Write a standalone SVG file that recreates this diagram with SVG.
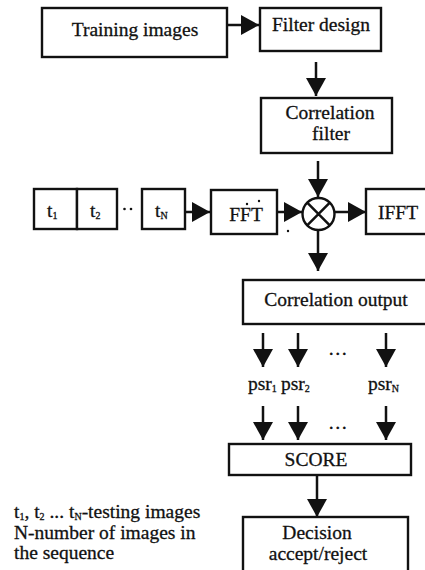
<svg xmlns="http://www.w3.org/2000/svg" width="425" height="570" viewBox="0 0 425 570">
<defs>
<style>
.box{fill:#fff;stroke:#111;stroke-width:2.4}
.ln{fill:none;stroke:#111;stroke-width:2.5}
text{font-family:"Liberation Serif","Times New Roman",serif;font-size:19.5px;fill:#111;stroke:#111;stroke-width:0.3}
.c{text-anchor:middle}
.sub{font-size:10px}
</style>
<marker id="ah" viewBox="0 0 18 20" refX="18" refY="10" markerWidth="18" markerHeight="20" markerUnits="userSpaceOnUse" orient="auto">
<path d="M0,0 L18,10 L0,20 z" fill="#111"/>
</marker>
</defs>
<rect width="425" height="570" fill="#fff"/>

<g id="connectors">
<path class="ln" marker-end="url(#ah)" d="M227,25 H259"/>
<path class="ln" marker-end="url(#ah)" d="M316,62 V96"/>
<path class="ln" marker-end="url(#ah)" d="M318,161 V197"/>
<path class="ln" marker-end="url(#ah)" d="M185,212 H210"/>
<path class="ln" marker-end="url(#ah)" d="M277,212 H302"/>
<path class="ln" marker-end="url(#ah)" d="M335,212 H366"/>
<path class="ln" marker-end="url(#ah)" d="M318,230 V271"/>
<path class="ln" marker-end="url(#ah)" d="M263,333 V367"/>
<path class="ln" marker-end="url(#ah)" d="M298,333 V367"/>
<path class="ln" marker-end="url(#ah)" d="M386,333 V367"/>
<path class="ln" marker-end="url(#ah)" d="M263,406 V440"/>
<path class="ln" marker-end="url(#ah)" d="M298,406 V440"/>
<path class="ln" marker-end="url(#ah)" d="M386,406 V440"/>
<path class="ln" marker-end="url(#ah)" d="M317,475 V517"/>
</g>

<g id="training-images">
<rect class="box" x="42" y="8" width="185" height="49"/>
<text class="c" x="135" y="36">Training images</text>
</g>

<g id="filter-design">
<rect class="box" x="260" y="8" width="121" height="43"/>
<text class="c" x="321" y="31">Filter design</text>
</g>

<g id="correlation-filter">
<rect class="box" x="261" y="98" width="131" height="55"/>
<text class="c" x="330" y="119">Correlation</text>
<text class="c" x="331" y="140">filter</text>
</g>

<g id="test-images">
<rect class="box" x="34" y="189" width="43" height="40"/>
<rect class="box" x="77" y="189" width="40" height="40"/>
<rect class="box" x="142" y="189" width="43" height="40"/>
<text x="47" y="217">t<tspan class="sub" dy="2">1</tspan></text>
<text x="90" y="217">t<tspan class="sub" dy="2">2</tspan></text>
<text x="155" y="217">t<tspan class="sub" dy="2">N</tspan></text>
<circle cx="124.5" cy="209" r="1.3" fill="#111"/>
<circle cx="131" cy="209" r="1.3" fill="#111"/>
</g>

<g id="fft">
<rect class="box" x="211" y="190" width="66" height="44"/>
<text class="c" x="246" y="221">FFT</text>
<circle cx="247" cy="204" r="1.2" fill="#111"/>
<circle cx="259" cy="201" r="1.2" fill="#111"/>
<circle cx="288" cy="231" r="1.2" fill="#111"/>
</g>

<g id="multiplier">
<circle cx="318.5" cy="214" r="16" fill="#fff" stroke="#111" stroke-width="2.4"/>
<path class="ln" stroke-width="2.2" d="M307.2,202.7 L329.8,225.3 M329.8,202.7 L307.2,225.3"/>
</g>

<g id="ifft">
<rect class="box" x="366" y="189" width="70" height="45"/>
<text x="378" y="219">IFFT</text>
</g>

<g id="correlation-output">
<rect class="box" x="243" y="280" width="195" height="44"/>
<text class="c" x="336" y="306">Correlation output</text>
</g>

<g id="psr">
<text x="248" y="390">psr<tspan class="sub" dy="2">1</tspan></text>
<text x="281" y="390">psr<tspan class="sub" dy="2">2</tspan></text>
<text x="368" y="390">psr<tspan class="sub" dy="2">N</tspan></text>
<text x="328" y="355">…</text>
<text x="328" y="429">…</text>
</g>

<g id="score">
<rect class="box" x="229" y="444" width="182" height="31"/>
<text class="c" x="316" y="466">SCORE</text>
</g>

<g id="decision">
<rect class="box" x="243" y="517" width="165" height="60"/>
<text class="c" x="317" y="539">Decision</text>
<text class="c" x="318" y="560">accept/reject</text>
</g>

<g id="legend">
<text x="14" y="518">t<tspan class="sub" dy="2">1</tspan><tspan dy="-2">, t</tspan><tspan class="sub" dy="2">2</tspan><tspan dy="-2"> ... t</tspan><tspan class="sub" dy="2">N</tspan><tspan dy="-2">-testing images</tspan></text>
<text x="14" y="539">N-number of images in</text>
<text x="14" y="559">the sequence</text>
</g>
</svg>
